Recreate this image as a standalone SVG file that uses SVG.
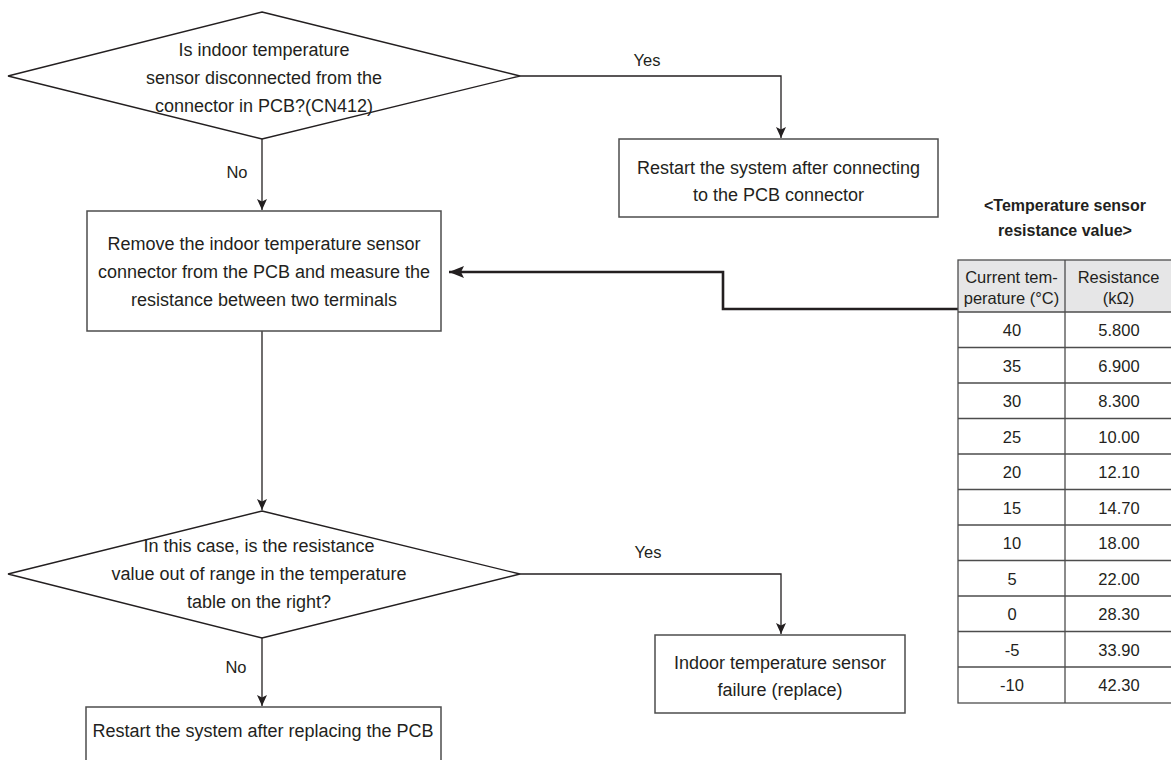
<svg xmlns="http://www.w3.org/2000/svg" width="1171" height="760" viewBox="0 0 1171 760">
<style>
.bg{fill:#fff}
.shape{fill:#fff;stroke:#231f20;stroke-width:1.3}
.box{fill:#fff;stroke:#4d4d4d;stroke-width:1.5}
.t{font-family:"Liberation Sans",Arial,sans-serif;font-size:18px;fill:#231f20;text-anchor:middle}
.lbl{font-family:"Liberation Sans",Arial,sans-serif;font-size:16.5px;fill:#231f20;text-anchor:middle}
.tt{font-family:"Liberation Sans",Arial,sans-serif;font-size:16.5px;fill:#231f20;text-anchor:middle}
.title{font-family:"Liberation Sans",Arial,sans-serif;font-size:16px;font-weight:bold;fill:#231f20;text-anchor:middle}
.conn{fill:none;stroke:#231f20;stroke-width:1.3}
.thick{fill:none;stroke:#231f20;stroke-width:2.6}
.grid{fill:none;stroke:#4d4d4d;stroke-width:1.3}
</style>
<defs>
<marker id="arr" markerUnits="userSpaceOnUse" markerWidth="12" markerHeight="10" refX="11" refY="5" orient="auto">
<path d="M0,0 L11,5 L0,10 L2.5,5 z" fill="#231f20"/>
</marker>
<marker id="arrBig" markerUnits="userSpaceOnUse" markerWidth="16" markerHeight="12" refX="15" refY="6" orient="auto">
<path d="M0,0 L15,6 L0,12 L3,6 z" fill="#231f20"/>
</marker>
</defs>
<rect class="bg" x="0" y="0" width="1171" height="760"/>

<g id="connectors">
<path class="conn" d="M262,139 L262,210" marker-end="url(#arr)"/>
<path class="conn" d="M520,76 L781,76 L781,138" marker-end="url(#arr)"/>
<path class="conn" d="M262,331 L262,510" marker-end="url(#arr)"/>
<path class="conn" d="M520,574 L781,574 L781,634" marker-end="url(#arr)"/>
<path class="conn" d="M262,638 L262,706" marker-end="url(#arr)"/>
<path class="thick" d="M958,309 L723,309 L723,272 L449,272" marker-end="url(#arrBig)"/>
<text class="lbl" x="647" y="66">Yes</text>
<text class="lbl" x="237" y="178">No</text>
<text class="lbl" x="648" y="558">Yes</text>
<text class="lbl" x="236" y="673">No</text>
</g>

<g id="decision1">
<polygon class="shape" points="262,12 520,76 262,139 8,76"/>
<text class="t" x="264" y="55.5">Is indoor temperature</text>
<text class="t" x="264" y="83.5">sensor disconnected from the</text>
<text class="t" x="264" y="111.5">connector in PCB?(CN412)</text>
</g>

<g id="box-connect">
<rect class="box" x="619" y="139" width="319" height="78"/>
<text class="t" x="778.5" y="174">Restart the system after connecting</text>
<text class="t" x="778.5" y="201">to the PCB connector</text>
</g>

<g id="box-measure">
<rect class="box" x="87" y="211" width="354" height="120"/>
<text class="t" x="264" y="249.5">Remove the indoor temperature sensor</text>
<text class="t" x="264" y="277.5">connector from the PCB and measure the</text>
<text class="t" x="264" y="305.5">resistance between two terminals</text>
</g>

<g id="decision2">
<polygon class="shape" points="262,511 520,574 262,638 8,574"/>
<text class="t" x="259" y="552">In this case, is the resistance</text>
<text class="t" x="259" y="580">value out of range in the temperature</text>
<text class="t" x="259" y="608">table on the right?</text>
</g>

<g id="box-failure">
<rect class="box" x="655" y="635" width="250" height="78"/>
<text class="t" x="780" y="669">Indoor temperature sensor</text>
<text class="t" x="780" y="696">failure (replace)</text>
</g>

<g id="box-replace">
<rect class="box" x="86" y="707" width="355" height="70"/>
<text class="t" x="263" y="737">Restart the system after replacing the PCB</text>
</g>

<g id="table">
<text class="title" x="1065" y="211">&lt;Temperature sensor</text>
<text class="title" x="1065" y="236">resistance value&gt;</text>
<rect x="958" y="260" width="214" height="52" fill="#e6e6e7"/>
<rect class="grid" x="958" y="260" width="214" height="443"/>
<line class="grid" x1="1065" y1="260" x2="1065" y2="703"/>
<path class="grid" d="M958,312H1172M958,347.5H1172M958,383H1172M958,418.5H1172M958,454H1172M958,489.5H1172M958,525H1172M958,560.5H1172M958,596H1172M958,631.5H1172M958,667H1172"/>
<text class="tt" x="1011.5" y="283">Current tem-</text>
<text class="tt" x="1011.5" y="304">perature (°C)</text>
<text class="tt" x="1118.5" y="283">Resistance</text>
<text class="tt" x="1118.5" y="304">(kΩ)</text>
<g class="tt">
<text x="1012" y="336">40</text><text x="1119" y="336">5.800</text>
<text x="1012" y="371.5">35</text><text x="1119" y="371.5">6.900</text>
<text x="1012" y="407">30</text><text x="1119" y="407">8.300</text>
<text x="1012" y="442.5">25</text><text x="1119" y="442.5">10.00</text>
<text x="1012" y="478">20</text><text x="1119" y="478">12.10</text>
<text x="1012" y="513.5">15</text><text x="1119" y="513.5">14.70</text>
<text x="1012" y="549">10</text><text x="1119" y="549">18.00</text>
<text x="1012" y="584.5">5</text><text x="1119" y="584.5">22.00</text>
<text x="1012" y="620">0</text><text x="1119" y="620">28.30</text>
<text x="1012" y="655.5">-5</text><text x="1119" y="655.5">33.90</text>
<text x="1012" y="691">-10</text><text x="1119" y="691">42.30</text>
</g>
</g>
</svg>
